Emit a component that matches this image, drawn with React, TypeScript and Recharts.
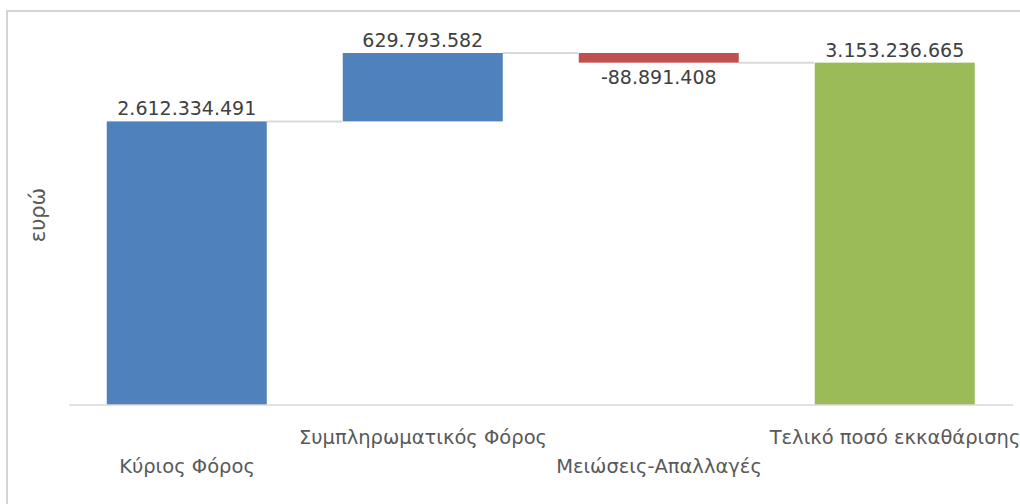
import { Bar, BarChart, LabelList, XAxis, YAxis } from "recharts";

const categories = [
  "Κύριος Φόρος",
  "Συμπληρωματικός Φόρος",
  "Μειώσεις-Απαλλαγές",
  "Τελικό ποσό εκκαθάρισης",
];
const amounts = [2612334491, 629793582, -88891408, 3153236665];
// start / step / total, like an Excel waterfall
const kinds = ["start", "step", "step", "total"];
const yDomain = [0, 3500000000];
const yLabel = "ευρώ";

const BLUE = "#4F81BD";
const RED = "#C0504D";
const GREEN = "#9BBB59";
const GRID = "#D9D9D9";
const FONT = "'DejaVu Sans', sans-serif";
const GAP = 0.16;

let running = 0;
const data = categories.map((name, i) => {
  const amount = amounts[i];
  let range: number[];
  if (kinds[i] === "step") {
    const from = running;
    running += amount;
    range = [Math.min(from, running), Math.max(from, running)];
  } else {
    running = amount;
    range = [0, amount];
  }
  return { name, amount, kind: kinds[i], range };
});

const fmt = (n: number) =>
  (n < 0 ? "-" : "") + Math.abs(n).toString().replace(/\B(?=(\d{3})+(?!\d))/g, ".");

function WaterfallBar(props: any) {
  const { x, y, width, payload, index } = props;
  const height = Math.abs(props.height);
  const fill = payload.amount < 0 ? RED : payload.kind === "total" ? GREEN : BLUE;
  const endY = payload.amount < 0 ? y + height : y;
  // space to the next bar, from the band ratio
  const gap = (width * 2 * GAP) / (1 - 2 * GAP);
  return (
    <g>
      {index < data.length - 1 && (
        <line x1={x + width} x2={x + width + gap} y1={endY} y2={endY} stroke={GRID} strokeWidth={2} />
      )}
      <rect x={x} y={y} width={width} height={height} fill={fill} />
    </g>
  );
}

function ValueLabel(props: any) {
  const vb = props.viewBox ?? props;
  const value = Number(props.value);
  const cx = vb.x + vb.width / 2;
  const h = Math.abs(vb.height);
  const ty = value < 0 ? vb.y + h + 21 : vb.y - 6;
  return (
    <text x={cx} y={ty} textAnchor="middle" fill="#404040" fontSize={19} fontFamily={FONT}>
      {fmt(value)}
    </text>
  );
}

function CategoryTick(props: any) {
  const { x, y, payload, index } = props;
  return (
    <text
      x={x}
      y={y + (index % 2 ? 39 : 68)}
      textAnchor="middle"
      fill="#595959"
      fontSize={19.5}
      fontFamily={FONT}
    >
      {payload.value}
    </text>
  );
}

export default function App() {
  return (
    <div style={{ position: "absolute", left: 0, top: 0, width: 1020, height: 504, overflow: "hidden", background: "#fff" }}>
      <div
        style={{
          position: "absolute",
          left: 6,
          top: 10,
          width: 1100,
          height: 600,
          border: "2px solid #D4D4D4",
        }}
      />
      <div style={{ position: "absolute", left: 0, top: 0 }}>
        <BarChart
          width={1020}
          height={504}
          data={data}
          margin={{ top: 25, right: 7, left: 0, bottom: 0 }}
          barCategoryGap={`${GAP * 100}%`}
        >
          <XAxis
            dataKey="name"
            interval={0}
            tickLine={false}
            tickSize={0}
            tickMargin={0}
            height={99}
            axisLine={{ stroke: GRID, strokeWidth: 1.5 }}
            tick={<CategoryTick />}
          />
          <YAxis
            domain={yDomain}
            type="number"
            width={69}
            tick={false}
            tickLine={false}
            axisLine={false}
            label={{
              value: yLabel,
              angle: -90,
              position: "center",
              dx: 3,
              fill: "#595959",
              fontSize: 21,
              fontFamily: FONT,
            }}
          />
          <Bar dataKey="range" shape={<WaterfallBar />} isAnimationActive={false}>
            <LabelList dataKey="amount" content={<ValueLabel />} />
          </Bar>
        </BarChart>
      </div>
    </div>
  );
}
